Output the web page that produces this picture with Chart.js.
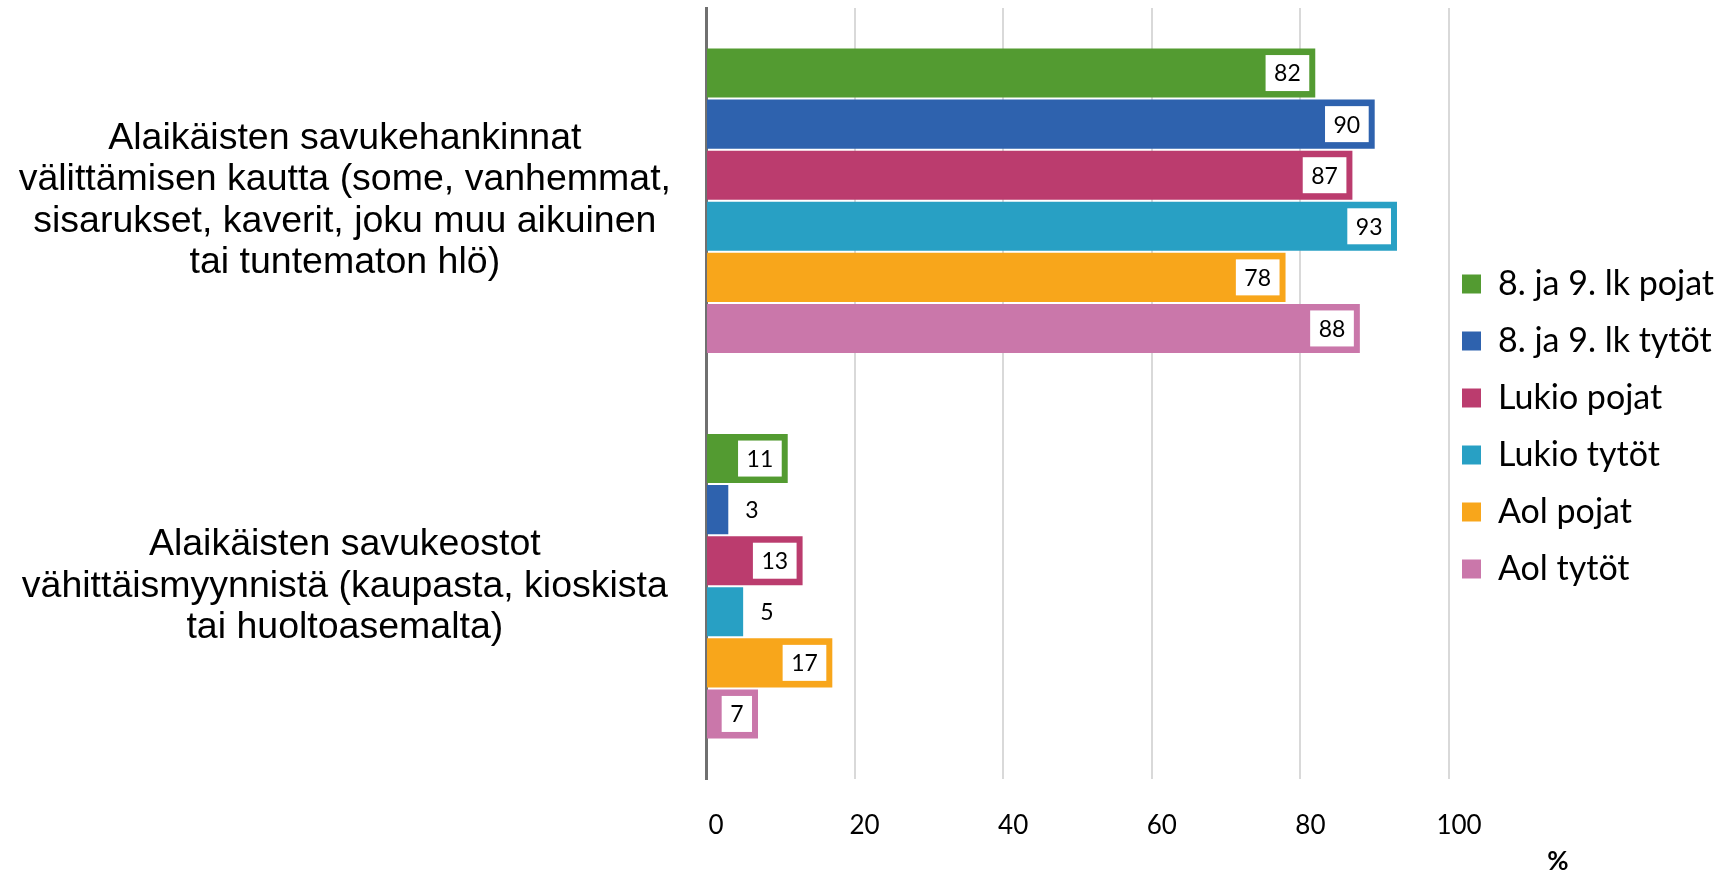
<!DOCTYPE html>
<html lang="fi">
<head>
<meta charset="utf-8">
<title>Alaikäisten savukehankinnat</title>
<script src="https://cdn.jsdelivr.net/npm/chart.js@4"></script>
<style>
    html, body { margin: 0; padding: 0; background: #fff; }
    #wrap { position: relative; width: 1721px; height: 871px; }
</style>
</head>
<body>
<div id="wrap"><canvas id="chart"></canvas></div>
<script>
// ── Data ──
const categories = [
    ['Alaikäisten savukehankinnat', 'välittämisen kautta (some, vanhemmat,', 'sisarukset, kaverit, joku muu aikuinen', 'tai tuntematon hlö)'],
    ['Alaikäisten savukeostot', 'vähittäismyynnistä (kaupasta, kioskista', 'tai huoltoasemalta)'],
];
const seriesNames = ['8. ja 9. lk pojat', '8. ja 9. lk tytöt', 'Lukio pojat', 'Lukio tytöt', 'Aol pojat', 'Aol tytöt'];
const pojat89 = [82, 11];
const tytot89 = [90, 3];
const lukioPojat = [87, 13];
const lukioTytot = [93, 5];
const aolPojat = [78, 17];
const aolTytot = [88, 7];
const xTicks = [0, 20, 40, 60, 80, 100];

const seriesValues = [pojat89, tytot89, lukioPojat, lukioTytot, aolPojat, aolTytot];
const colors = ['#539B31', '#2E62AE', '#BB3C6E', '#28A0C4', '#F8A61B', '#CA77AA'];

const LABEL_FONT = 'Lato, "Open Sans", sans-serif';

// White boxed value labels at the bar end (outside when the bar is too short)
const valueLabels = {
    id: 'valueLabels',
    afterDatasetsDraw(chart) {
        const { ctx } = chart;
        ctx.save();
        ctx.font = `23px ${LABEL_FONT}`;
        ctx.textBaseline = 'middle';
        chart.data.datasets.forEach((ds, di) => {
            chart.getDatasetMeta(di).data.forEach((bar, i) => {
                const text = String(ds.data[i]);
                const boxW = ctx.measureText(text).width + 17;
                const boxH = 36;
                if (bar.x - bar.base >= boxW + 12) {
                    const right = bar.x - 6;
                    ctx.fillStyle = '#fff';
                    ctx.fillRect(right - boxW, bar.y - boxH / 2, boxW, boxH);
                    ctx.fillStyle = '#000';
                    ctx.textAlign = 'center';
                    ctx.fillText(text, right - boxW / 2, bar.y + 1);
                } else {
                    ctx.fillStyle = '#000';
                    ctx.textAlign = 'left';
                    ctx.fillText(text, bar.x + 17, bar.y + 1);
                }
            });
        });
        ctx.restore();
    },
};

// Unit mark under the legend, and pull the legend a bit closer to the plot
const extras = {
    id: 'extras',
    afterLayout(chart) {
        chart.legend.left = chart.chartArea.right - 10;
    },
    afterDraw(chart) {
        const { ctx, chartArea } = chart;
        ctx.save();
        ctx.font = `bold 26px ${LABEL_FONT}`;
        ctx.fillStyle = '#000';
        ctx.textAlign = 'center';
        ctx.textBaseline = 'middle';
        ctx.fillText('%', chartArea.right + 109, 862);
        ctx.restore();
    },
};

new Chart(document.getElementById('chart'), {
    type: 'bar',
    data: {
        labels: categories,
        datasets: seriesNames.map((name, i) => ({
            label: name,
            data: seriesValues[i],
            backgroundColor: colors[i],
            borderWidth: 0,
            barPercentage: 0.96,
            categoryPercentage: 0.795,
        })),
    },
    options: {
        indexAxis: 'y',
        responsive: true,
        maintainAspectRatio: false,
        animation: false,
        layout: { padding: { top: 8, bottom: 26, left: 0, right: 0 } },
        plugins: {
            tooltip: { enabled: false },
            legend: {
                position: 'right',
                maxWidth: 272,
                labels: {
                    color: '#000',
                    font: { family: LABEL_FONT, size: 34 },
                    boxWidth: 19,
                    boxHeight: 19,
                    padding: 23,
                },
            },
        },
        scales: {
            x: {
                min: 0,
                max: 100,
                afterBuildTicks: scale => { scale.ticks = xTicks.map(v => ({ value: v })); },
                afterFit: scale => { scale.height = 66; },
                grid: {
                    color: ctx => ctx.index === 0 ? 'rgba(0,0,0,0)' : '#D9D9D9',
                    lineWidth: 2,
                    drawTicks: false,
                },
                border: { display: false },
                ticks: {
                    color: '#000',
                    font: { family: LABEL_FONT, size: 26 },
                    padding: 31,
                    labelOffset: 10,
                },
            },
            y: {
                // the long multi-line labels would otherwise push the plot area in
                afterFit: scale => {
                    scale.width = 706;
                    scale.paddingTop = 0;
                    scale.paddingBottom = 0;
                },
                grid: { display: false, drawTicks: false },
                border: { color: '#707070', width: 3 },
                ticks: {
                    color: '#000',
                    crossAlign: 'center',
                    padding: 35,
                    font: { family: '"Liberation Sans", Arial, sans-serif', size: 37.5, lineHeight: 1.1 },
                },
            },
        },
    },
    plugins: [valueLabels, extras],
});
</script>
</body>
</html>
